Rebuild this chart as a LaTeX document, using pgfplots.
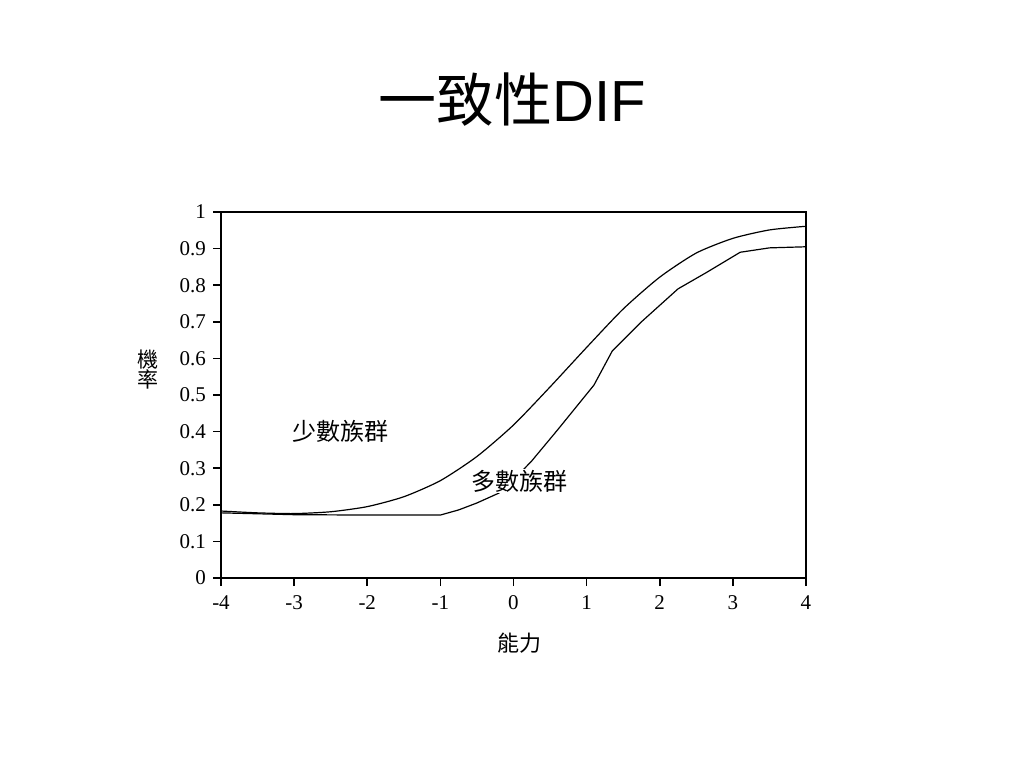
\documentclass[border=0pt]{standalone}
\usepackage{fontspec}
\setmainfont{Liberation Serif}
\newfontfamily\cjk{Noto Sans CJK TC}
\newfontfamily\arial{Liberation Sans}
\usepackage{pgfplots}
\pgfplotsset{compat=1.18}
\usepackage{pgfplotstable}
\pgfplotstableread{
x y
-4 0.183
-3.5 0.178
-3 0.176
-2.5 0.181
-2 0.195
-1.5 0.222
-1 0.266
-0.5 0.332
0 0.418
0.5 0.522
1 0.630
1.5 0.735
2 0.822
2.5 0.888
3 0.928
3.5 0.951
4 0.961
}\minority
\pgfplotstableread{
x y
-4 0.178
-3 0.173
-2 0.172
-1 0.172
-0.75 0.186
-0.5 0.205
-0.2 0.232
0 0.268
0.25 0.320
0.6 0.404
1.1 0.527
1.35 0.620
1.75 0.700
2.25 0.790
2.65 0.836
3.1 0.890
3.5 0.902
4 0.905
}\majority
\begin{document}
\begin{tikzpicture}
\useasboundingbox[fill=white] (0,0) rectangle (512pt,384pt);
\node at (256pt,334pt) {\fontsize{29}{34}\selectfont\cjk 一致性\arial DIF};
\begin{axis}[
  at={(110.5pt,95pt)}, anchor=south west,
  scale only axis, width=292.5pt, height=183pt,
  xmin=-4, xmax=4, ymin=0, ymax=1,
  xtick={-4,-3,...,4}, ytick={0,0.1,...,1},
  yticklabels={0,0.1,0.2,0.3,0.4,0.5,0.6,0.7,0.8,0.9,1},
  tick align=outside, tick pos=left,
  major tick length=4pt,
  every tick/.style={black, line width=0.8pt},
  axis line style={black, line width=0.6pt},
  /pgf/number format/assume math mode=true,
  tick label style={font=\fontsize{10.5}{12}\selectfont},
  xticklabel style={yshift=-1pt, text height=1.6ex, text depth=0.2ex},
  clip=false,
]
\addplot[black, line width=0.6pt, smooth, tension=0.4] table[x=x,y=y] {\minority};
\addplot[black, line width=0.6pt, sharp plot] table[x=x,y=y] {\majority};
\draw[black, line width=1.2pt] (axis cs:4,0) -- (axis cs:4,1);
\node[font=\fontsize{12}{14}\selectfont\cjk, fill=white, inner sep=0.5pt] at (axis cs:-2.37,0.40) {少數族群};
\node[font=\fontsize{12}{14}\selectfont\cjk, fill=white, inner sep=0.5pt] at (axis cs:0.08,0.265) {多數族群};
\end{axis}
\node[font=\fontsize{11}{13}\selectfont\cjk] at (259.5pt,62.5pt) {能力};
\node[font=\fontsize{10.5}{12}\selectfont\cjk, align=center, inner sep=0pt] at (74pt,199pt) {機\\[-2pt]率};
\end{tikzpicture}
\end{document}
